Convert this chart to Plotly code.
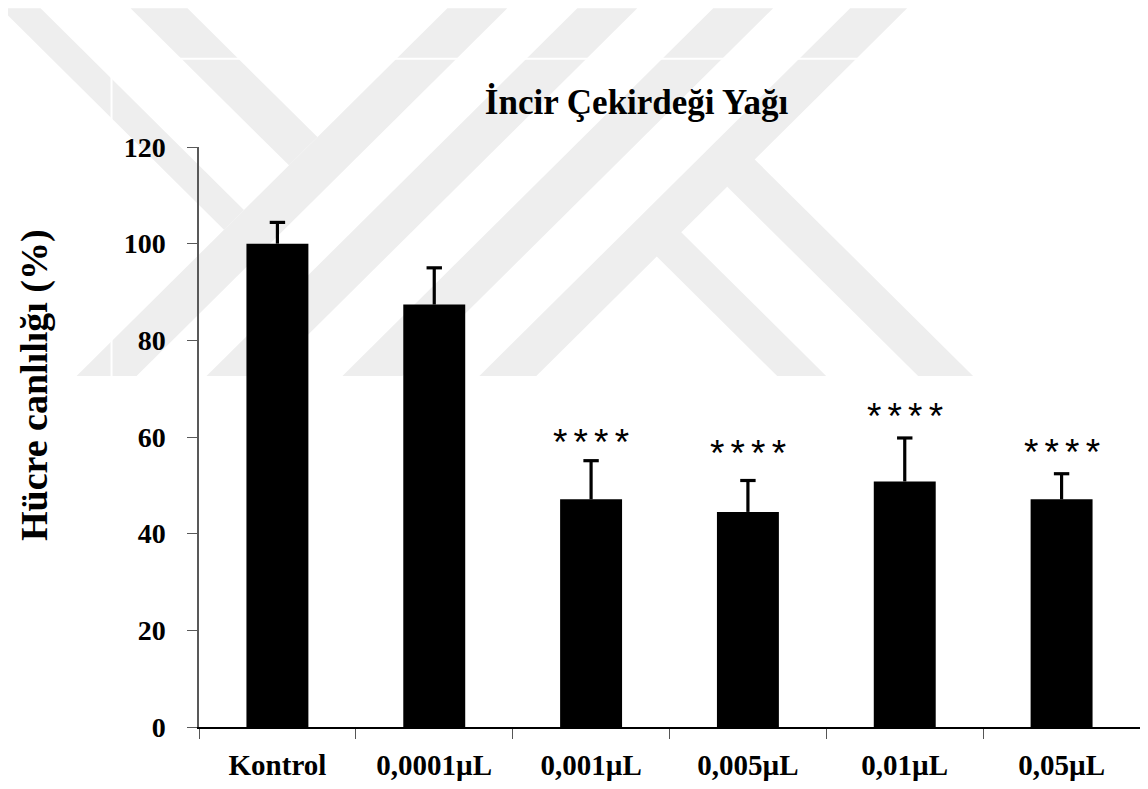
import plotly.graph_objects as go

# ---- data ----
categories = ["Kontrol", "0,0001µL", "0,001µL", "0,005µL", "0,01µL", "0,05µL"]
viability = [100.0, 87.4, 47.1, 44.5, 50.8, 47.1]
sd_upper = [4.4, 7.6, 8.0, 6.5, 9.0, 5.3]
star_cats = ["0,001µL", "0,005µL", "0,01µL", "0,05µL"]
star_levels = [60.6, 58.2, 65.8, 58.4]
star_text = "*\u2006*\u2006*\u2006*"
y_ticks = [0, 20, 40, 60, 80, 100, 120]

# the page body has an 8px margin, so the figure starts at page pixel (8, 8)
OFF = 8
W, H = 1148 - OFF, 789 - OFF
# plot-area edges in page pixels
PL, PR, PT, PB = 198.5, 1140.0, 147.0, 732.0
PW, PH = PR - PL, PB - PT

def px(x):
    return (x - PL) / PW

def py(y):
    return (PB - y) / PH

def path(pts):
    return "M " + " L ".join(f"{px(x):.5f},{py(y):.5f}" for x, y in pts) + " Z"

# watermark polygons (page pixel geometry)
wm_polys = [
    [(0, 7), (40, 7), (243.5, 210.5), (223.5, 230.5)],
    [(130, 7), (187, 7), (317, 137), (288.5, 165.5)],
    [(447, 7), (507, 7), (136, 378), (76, 378)],
    [(577, 7), (637, 7), (266, 378), (206, 378)],
    [(713, 7), (773, 7), (402, 378), (342, 378)],
    [(850, 7), (907, 7), (536, 378), (479, 378)],
    [(655.5, 256.5), (680, 232), (826, 378), (777, 378)],
    [(726, 186), (753.5, 158.5), (973, 378), (918, 378)],
]
shapes = []
for p in wm_polys:
    shapes.append(dict(type="path", path=path(p), xref="paper", yref="paper",
                       fillcolor="#eeeeee", line=dict(width=0), layer="below"))
shapes.append(dict(type="line", xref="paper", yref="paper", x0=px(178), x1=px(858),
                   y0=py(58), y1=py(58), line=dict(color="white", width=2), layer="below"))
shapes.append(dict(type="line", xref="paper", yref="paper", x0=px(111), x1=px(111),
                   y0=py(73), y1=py(380), line=dict(color="white", width=2), layer="below"))

fig = go.Figure()
fig.add_trace(go.Bar(
    x=categories, y=viability,
    marker=dict(color="black", line=dict(width=0)),
    error_y=dict(type="data", array=sd_upper, arrayminus=[0] * len(sd_upper),
                 symmetric=False, color="black", thickness=3.2, width=0),
    showlegend=False, hoverinfo="x+y",
))
# caps on top of the upper error bars
fig.add_trace(go.Scatter(
    x=categories, y=[v + e for v, e in zip(viability, sd_upper)],
    mode="markers",
    marker=dict(symbol="line-ew", size=11, line=dict(color="black", width=3.2)),
    showlegend=False, hoverinfo="skip",
))

annotations = []
for c, lv in zip(star_cats, star_levels):
    annotations.append(dict(x=c, y=lv, xref="x", yref="y", text=star_text,
                            showarrow=False, yanchor="middle", yshift=-8,
                            font=dict(family="Liberation Sans, Arial", size=37, color="black")))
annotations.append(dict(x=px(34), y=py(387.5), xref="paper", yref="paper",
                        text="<b>Hücre canlılığı (%)</b>", textangle=-90, showarrow=False,
                        xanchor="center", yanchor="middle",
                        font=dict(family="Liberation Serif, Times New Roman", size=38, color="black")))

fig.update_layout(
    width=W, height=H,
    margin=dict(l=PL - OFF, r=W - (PR - OFF), t=PT - OFF, b=H - (PB - OFF), pad=0),
    paper_bgcolor="white", plot_bgcolor="rgba(0,0,0,0)",
    bargap=0.605,
    title=dict(text="<b>İncir Çekirdeği Yağı</b>", x=(636.5 - OFF) / W, y=1 - (102 - OFF) / H,
               xref="container", yref="container", xanchor="center", yanchor="middle",
               font=dict(family="Liberation Serif, Times New Roman", size=35, color="black")),
    shapes=shapes,
    annotations=annotations,
    font=dict(family="Liberation Serif, Times New Roman", color="black"),
)
fig.update_xaxes(
    type="category", range=[-0.5, 5.5], showgrid=False, zeroline=False,
    showline=True, linecolor="black", linewidth=1.5,
    ticks="outside", tickson="boundaries", ticklen=10, tickcolor="#555555", tickwidth=1.2,
    ticklabelstandoff=11,
    tickfont=dict(family="Liberation Serif, Times New Roman", size=29, color="black", weight="bold"),
)
fig.update_yaxes(
    range=[0, 120], tickvals=y_ticks, showgrid=False, zeroline=False,
    showline=True, linecolor="#595959", linewidth=1.5,
    ticks="outside", ticklen=10, tickcolor="#595959", tickwidth=1.2,
    ticklabelstandoff=16,
    tickfont=dict(family="Liberation Serif, Times New Roman", size=28, color="black", weight="bold"),
)

fig.write_html("out.html")
